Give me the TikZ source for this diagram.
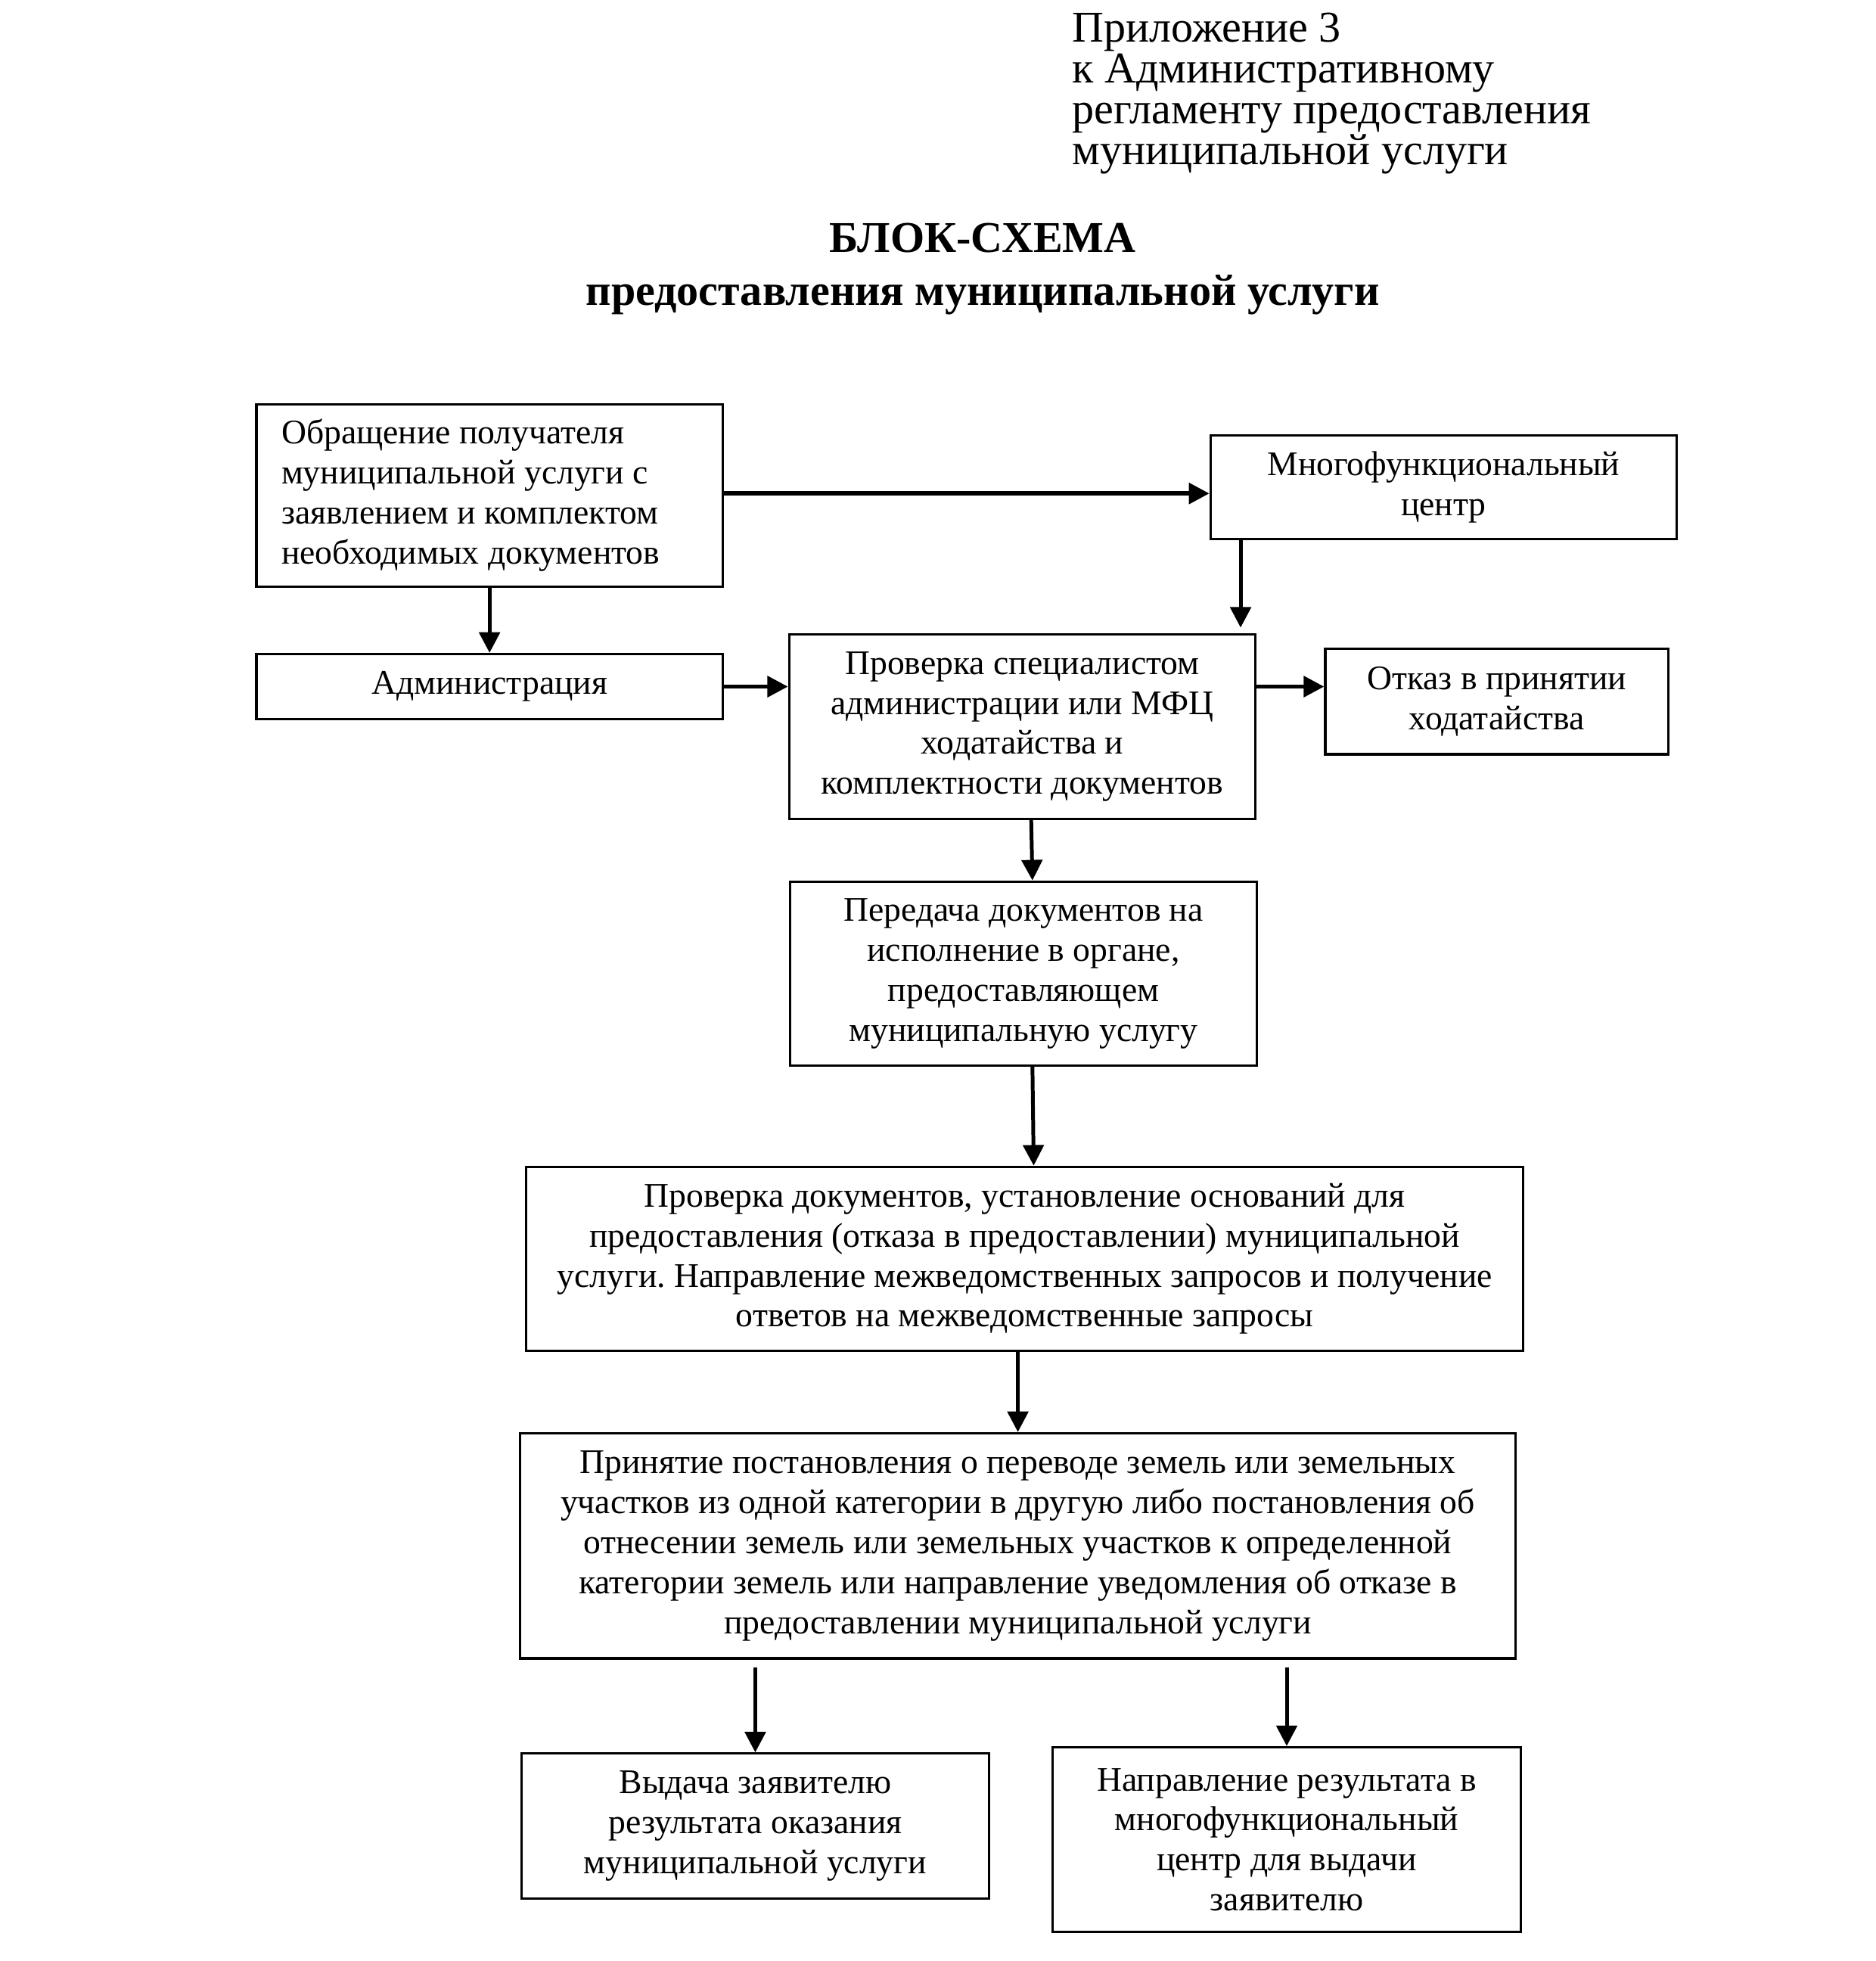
\documentclass[tikz,border=0pt]{standalone}
\usepackage{fontspec}
\setmainfont{Liberation Serif}
\frenchspacing
\usetikzlibrary{shapes,arrows.meta}
\tikzstyle{process} = [rectangle, line width=0.75pt, align=center, inner sep=0pt, font=\fontsize{11}{12.75}\selectfont, draw=black]
\tikzstyle{arrow} = [line width=1.2pt,->,>={Triangle[length=2.3mm,width=2.3mm]}]
\tikzstyle{harrow} = [arrow, line width=1.4pt]
\begin{document}
\begin{tikzpicture} [x=0.14mm, y=-0.14mm]
        \useasboundingbox (0,0) rectangle (1500,1568);
        \node (app) [anchor=north west, inner sep=0pt, align=left, font=\fontsize{14}{13}\selectfont] at (857,10) {Приложение 3\\к Административному\\регламенту предоставления\\муниципальной услуги};
        \node (title) [align=center, inner sep=0pt, font=\bfseries\fontsize{14}{17}\selectfont] at (786,215) {БЛОК-СХЕМА\\предоставления муниципальной услуги};
        \node (obr) [process, align=flush left, text width=46.6mm, inner xsep=2.8mm, minimum height=20.4mm] at (391.5,396) {Обращение получателя\\муниципальной услуги с\\заявлением и комплектом\\необходимых документов};
        \node (mfc) [process, minimum width=52.2mm, minimum height=11.6mm] at (1154.5,389.5) {Многофункциональный\\центр};
        \node (adm) [process, minimum width=52.2mm, minimum height=7.3mm] at (391.5,549) {Администрация};
        \node (prov) [process, minimum width=52.2mm, minimum height=20.7mm] at (817.5,581) {Проверка специалистом\\администрации или МФЦ\\ходатайства и\\комплектности документов};
        \node (otk) [process, minimum width=38.4mm, minimum height=11.8mm] at (1197,561) {Отказ в принятии\\ходатайства};
        \node (pered) [process, minimum width=52.2mm, minimum height=20.6mm] at (818.5,778.5) {Передача документов на\\исполнение в органе,\\предоставляющем\\муниципальную услугу};
        \node (pd) [process, minimum width=111.6mm, minimum height=20.6mm] at (819.5,1006.5) {Проверка документов, установление оснований для\\предоставления (отказа в предоставлении) муниципальной\\услуги. Направление межведомственных запросов и получение\\ответов на межведомственные запросы};
        \node (prin) [process, minimum width=111.4mm, minimum height=25.2mm] at (814,1236) {Принятие постановления о переводе земель или земельных\\участков из одной категории в другую либо постановления об\\отнесении земель или земельных участков к определенной\\категории земель или направление уведомления об отказе в\\предоставлении муниципальной услуги};
        \node (vyd) [process, minimum width=52.4mm, minimum height=16.2mm] at (604,1460) {Выдача заявителю\\результата оказания\\муниципальной услуги};
        \node (napr) [process, minimum width=52.4mm, minimum height=20.7mm] at (1029,1471) {Направление результата в\\многофункциональный\\центр для выдачи\\заявителю};
        \coordinate (mfcout) at ([xshift=3.5mm]mfc.south west);
        \draw [harrow] ([yshift=0.2mm]obr.east) -- ([yshift=0.2mm]obr.east -| mfc.west);
        \draw [arrow] (obr.south) -- (adm.north);
        \draw [arrow, shorten >=0.6mm] (mfcout) -- (mfcout |- prov.north);
        \draw [harrow] (adm.east) -- (adm.east -| prov.west);
        \draw [harrow] (prov.east |- adm.east) -- (otk.west |- adm.east);
        \draw [arrow] ([xshift=1mm]prov.south) -- ([xshift=1mm]pered.north);
        \draw [arrow] ([xshift=1mm]pered.south) -- ([xshift=1mm]pd.north);
        \draw [arrow] (pd.south -| prin.north) -- (prin.north);
        \draw [arrow, shorten <=0.85mm] (prin.south -| vyd.north) -- (vyd.north);
        \draw [arrow, shorten <=0.85mm] (prin.south -| napr.north) -- (napr.north);
        \end{tikzpicture}
\end{document}
